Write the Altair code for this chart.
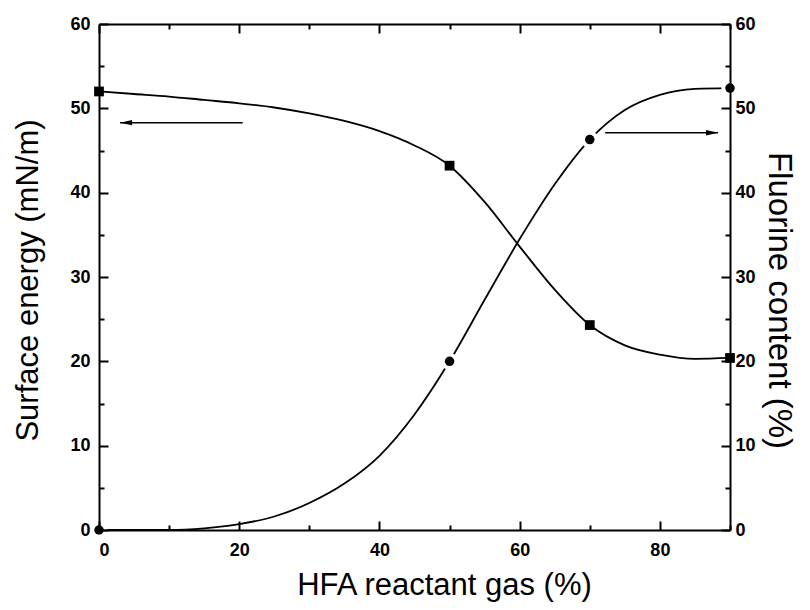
import altair as alt
import pandas as pd

# ---- data ----
x_pts = [0, 50, 70, 90]
surface_pts = [52.0, 43.2, 24.3, 20.4]
fluorine_pts = [0.0, 20.0, 46.3, 52.4]

curve_x = [0, 5, 10, 15, 20, 25, 30, 35, 40, 45, 50, 55, 60, 65, 70, 75, 80, 85, 90]
surface_curve = [52.0, 51.7, 51.4, 51.0, 50.6, 50.1, 49.4, 48.5, 47.3, 45.6, 43.2,
                 38.9, 33.6, 28.5, 24.3, 21.9, 20.8, 20.3, 20.4]
fluorine_curve = [0.0, 0.0, 0.0, 0.2, 0.7, 1.6, 3.2, 5.5, 8.8, 13.7, 20.0,
                  27.3, 34.5, 41.0, 46.3, 49.8, 51.6, 52.3, 52.4]

arrow_x_start = [20.5, 72.2]
arrow_x_end = [3.0, 88.3]
arrow_y = [48.3, 47.1]
arrow_dir = ["left", "right"]

x_major = [0, 20, 40, 60, 80]
x_minor = [10, 30, 50, 70, 90]
y_major = [0, 10, 20, 30, 40, 50, 60]
y_minor = [5, 15, 25, 35, 45, 55]

W, H = 631, 506
FONT = "Liberation Sans"
MAJOR, MINOR = "-9", "-5"   # negative = ticks pointing into the plot

df_curve = pd.DataFrame({"x": curve_x, "surface": surface_curve, "fluorine": fluorine_curve})
df_pts = pd.DataFrame({"x": x_pts, "surface": surface_pts, "fluorine": fluorine_pts})
df_arrow = pd.DataFrame({"x1": arrow_x_start, "x2": arrow_x_end, "y": arrow_y, "dir": arrow_dir})

xs = alt.Scale(domain=[0, 90], nice=False, zero=False)
ys = alt.Scale(domain=[0, 60], nice=False, zero=False)

common = dict(grid=False, zindex=1, domainColor="black", tickColor="black",
              domainWidth=2, tickWidth=2, labelColor="black", titleColor="black")


def tick_axis(orient, values, size, domain=False):
    return alt.Axis(orient=orient, values=values, labels=False, domain=domain,
                    ticks=True, tickSize=alt.ExprRef(expr=size), title=None, **common)


ax_x_labels = alt.Axis(orient="bottom", values=x_major, ticks=False, tickSize=0, domain=True,
                       labelPadding=11, labelFontSize=18, labelFontWeight="bold",
                       labelFont=FONT, title="HFA reactant gas (%)", titleFont=FONT,
                       titleFontSize=31, titleFontWeight="normal", titleX=345, titleY=64,
                       titleBaseline="alphabetic", titleAlign="center", **common)
ax_x_bot_major = tick_axis("bottom", x_major, MAJOR)
ax_x_bot_minor = tick_axis("bottom", x_minor, MINOR)
ax_x_top_major = tick_axis("top", x_major, MAJOR, domain=True)
ax_x_top_minor = tick_axis("top", x_minor, MINOR)

ax_y_left = alt.Axis(orient="left", values=y_major, ticks=False, tickSize=0, domain=True,
                     labelPadding=9, labelFontSize=18, labelFontWeight="bold", labelFont=FONT,
                     title="Surface energy (mN/m)", titleFont=FONT, titleFontSize=31,
                     titleFontWeight="normal", titleX=-62, titleY=256, titleAngle=270,
                     titleBaseline="alphabetic", titleAlign="center", **common)
ax_y_left_major = tick_axis("left", y_major, MAJOR)
ax_y_left_minor = tick_axis("left", y_minor, MINOR)
ax_y_right = alt.Axis(orient="right", values=y_major, ticks=False, tickSize=0, domain=True,
                      labelPadding=5, labelFontSize=18, labelFontWeight="bold", labelFont=FONT,
                      title="Fluorine content (%)", titleFont=FONT, titleFontSize=33,
                      titleFontWeight="normal", titleX=38, titleY=276, titleAngle=90,
                      titleBaseline="alphabetic", titleAlign="center", **common)
ax_y_right_major = tick_axis("right", y_major, MAJOR)
ax_y_right_minor = tick_axis("right", y_minor, MINOR)

surface_line = alt.Chart(df_curve).mark_line(interpolate="monotone", color="black", strokeWidth=1.8).encode(
    x=alt.X("x:Q", scale=xs, axis=ax_x_labels),
    y=alt.Y("surface:Q", scale=ys, axis=ax_y_left),
)
fluorine_line = alt.Chart(df_curve).mark_line(interpolate="monotone", color="black", strokeWidth=1.8).encode(
    x=alt.X("x:Q", scale=xs, axis=ax_x_bot_major),
    y=alt.Y("fluorine:Q", scale=ys, axis=ax_y_right),
)
halo = alt.Chart(df_pts).mark_circle(color="white", opacity=1, size=300).encode(
    x=alt.X("x:Q", scale=xs, axis=ax_x_bot_minor),
    y=alt.Y("fluorine:Q", scale=ys, axis=ax_y_left_major),
)
circles = alt.Chart(df_pts).mark_circle(color="black", opacity=1, size=90).encode(
    x=alt.X("x:Q", scale=xs, axis=ax_x_top_major),
    y=alt.Y("fluorine:Q", scale=ys, axis=ax_y_left_minor),
)
squares = alt.Chart(df_pts).mark_square(color="black", opacity=1, size=95).encode(
    x=alt.X("x:Q", scale=xs, axis=ax_x_top_minor),
    y=alt.Y("surface:Q", scale=ys, axis=ax_y_right_major),
)
arrow_lines = alt.Chart(df_arrow).mark_rule(color="black", strokeWidth=1.5).encode(
    x=alt.X("x1:Q", scale=xs, axis=None),
    x2="x2:Q",
    y=alt.Y("y:Q", scale=ys, axis=ax_y_right_minor),
)
arrow_heads = alt.Chart(df_arrow).mark_point(filled=True, color="black", opacity=1, size=144).encode(
    x=alt.X("x2:Q", scale=xs, axis=None),
    y=alt.Y("y:Q", scale=ys, axis=None),
    shape=alt.Shape("dir:N", scale=alt.Scale(domain=["left", "right"],
                                             range=["M0,0L2,-0.45L2,0.45Z", "M0,0L-2,-0.45L-2,0.45Z"]),
                    legend=None),
)

chart = alt.layer(
    surface_line, fluorine_line, halo, circles, squares, arrow_lines, arrow_heads
).resolve_axis(x="independent", y="independent").properties(
    width=W, height=H,
    autosize=alt.AutoSizeParams(type="none"),
    padding={"left": 91, "top": 16, "right": 72, "bottom": 72},
).configure_view(stroke=None).configure(background="white")

chart.save("out.html", embed_options={"renderer": "svg", "actions": False})
